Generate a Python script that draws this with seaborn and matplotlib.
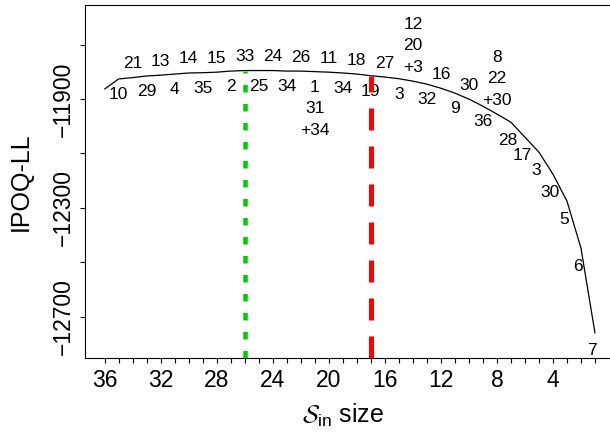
import matplotlib
matplotlib.use("Agg")
import matplotlib.pyplot as plt
import pandas as pd
import seaborn as sns

# Size of the input set S_in after each backward-elimination step
set_size = list(range(36, 0, -1))

# IPOQ log-likelihood reached at each set size
ipoq_ll = [-11863, -11826, -11821, -11815, -11812, -11808, -11804, -11803, -11801, -11797,
           -11795, -11795, -11795, -11797, -11797, -11799, -11801, -11804, -11808, -11814,
           -11819, -11825, -11834, -11845, -11860, -11878, -11900, -11926, -11955, -11985,
           -12040, -12095, -12176, -12275, -12448, -12760]

# Variable removed when stepping down to each size (35 ... 1); ties are stacked
removed = ["10", "21", "29", "13", "4", "14", "35", "15", "2", "33",
           "25", "24", "34", "26", "1\n31\n+34", "11", "34", "18", "19", "27",
           "3", "12\n20\n+3", "32", "16", "9", "30", "36", "8\n22\n+30", "28", "17",
           "3", "30", "5", "6", "7"]
removed_size = list(range(35, 0, -1))

# Sizes picked by the two selection criteria
size_green = 26
size_red = 17

x_tick_labels = [36, 32, 28, 24, 20, 16, 12, 8, 4]
y_ticks = [-11700, -11900, -12100, -12300, -12500, -12700]
y_tick_labels = [-11900, -12300, -12700]

sns.set_theme(style="white")
plt.rcParams["font.family"] = ["Liberation Sans", "DejaVu Sans"]
plt.rcParams["mathtext.fontset"] = "custom"
plt.rcParams["mathtext.rm"] = "Liberation Sans"
plt.rcParams["mathtext.cal"] = "cmsy10"
plt.rcParams["lines.scale_dashes"] = False

PX = 0.72  # points per pixel at 100 dpi

fig = plt.figure(figsize=(6.10, 4.37), dpi=100)
ax = fig.add_axes([85 / 610, 79 / 437, 529.6 / 610, 353 / 437])

df = pd.DataFrame({"size": set_size, "ll": ipoq_ll})
sns.lineplot(data=df, x="size", y="ll", color="black", lw=0.9,
             estimator=None, sort=False, ax=ax)

ax.set_xlim(37.4, -0.4)
ax.set_ylim(-12852, -11554)
y_bottom = ax.get_ylim()[0]
ll_at = dict(zip(set_size, ipoq_ll))

# labels of removed variables, alternating above/below along the flat part
for s, lab in zip(removed_size, removed):
    y = ll_at[s]
    lines = lab.split("\n")
    above = (s % 2 == 0) and s >= 8
    if above:
        for k, t in enumerate(reversed(lines)):
            ax.annotate(t, (s, y), xytext=(0, (14 + 21.5 * k) * PX),
                        textcoords="offset points", ha="center", va="center",
                        fontsize=12.5, color="black")
    else:
        dx = -3 * PX if s <= 7 else 0
        dy = 18 if s <= 7 else 15.5
        for k, t in enumerate(lines):
            ax.annotate(t, (s, y), xytext=(dx, -(dy + 21.5 * k) * PX),
                        textcoords="offset points", ha="center", va="center",
                        fontsize=12.5, color="black")

# selected set sizes
ax.plot([size_green, size_green], [y_bottom, ll_at[size_green]], color="#00cd00",
        lw=4.5 * PX, dashes=(7.5 * PX, 11.5 * PX), solid_capstyle="butt",
        dash_capstyle="butt", zorder=5, clip_on=True)
ax.plot([size_red, size_red], [y_bottom, ll_at[size_red]], color="#ff0000",
        lw=5 * PX, dashes=(22 * PX, 16 * PX), dash_capstyle="butt", zorder=5)

ax.set_xticks(list(range(1, 37)))
ax.set_xticklabels([str(v) if v in x_tick_labels else "" for v in range(1, 37)])
ax.set_yticks(y_ticks)
ax.set_yticklabels([("\u2212" + str(-v)) if v in y_tick_labels else "" for v in y_ticks],
                   rotation=90, va="center")

ax.tick_params(axis="both", which="major", direction="out", length=5 * PX,
               width=0.8, color="black", labelcolor="black", labelsize=16.5)
ax.tick_params(axis="x", pad=6 * PX, bottom=True)
ax.tick_params(axis="y", pad=5 * PX, left=True)

for sp in ax.spines.values():
    sp.set_visible(True)
    sp.set_color("black")
    sp.set_linewidth(0.8)

ax.set_xlabel(r"$\mathcal{S}_{\mathrm{in}}$ size", fontsize=18, color="black")
ax.set_ylabel("IPOQ-LL", fontsize=18, color="black")
ax.xaxis.set_label_coords(0.487, -0.125)
ax.yaxis.set_label_coords(-0.098, 0.5)

fig.savefig("out.png", dpi=100)
